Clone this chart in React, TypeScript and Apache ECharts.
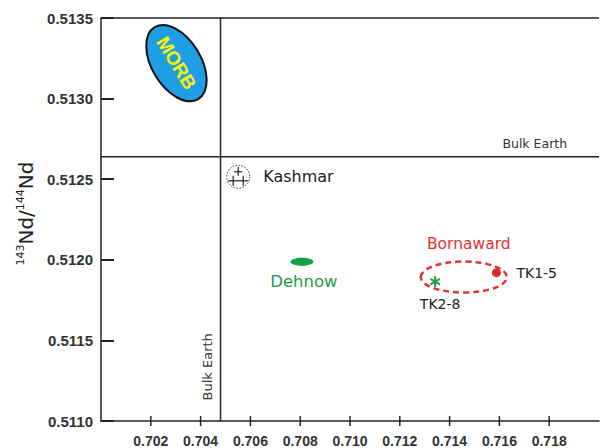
import React, { useEffect, useRef } from 'react';
import * as echarts from 'echarts';

// Axis ranges / ticks
const xRange = [0.7, 0.72];
const xInterval = 0.002;
const xTickValues = [0.702, 0.704, 0.706, 0.708, 0.71, 0.712, 0.714, 0.716, 0.718];
const yRange = [0.511, 0.5135];
const yInterval = 0.0005;

// Reference lines (Bulk Earth)
const bulkEarthSr = 0.7048;
const bulkEarthNd = 0.51264;

// Fields and samples: [87Sr/86Sr, 143Nd/144Nd]
const morbField = [0.70303, 0.51322];
const kashmar = [0.70551, 0.512515];
const dehnow = [0.70807, 0.511988];
const bornawardField = [0.71457, 0.511893];
const tk15 = [0.71588, 0.51192];
const tk28 = [0.71342, 0.511864];

// label anchors
const bulkEarthHLabel = [0.71742, bulkEarthNd];
const bulkEarthVLabel = [bulkEarthSr, 0.511336];

const SANS = '"DejaVu Sans", Verdana, sans-serif';
const ARIAL = '"Liberation Sans", Arial, sans-serif';

export default function App() {
  const ref = useRef<HTMLDivElement>(null);
  useEffect(() => {
    if (!ref.current) return;
    const chart = echarts.init(ref.current, null, { renderer: 'svg' });

    const frameLine = { stroke: '#222', lineWidth: 1.5 };

    const option: any = {
      animation: false,
      textStyle: { fontFamily: SANS },
      grid: {
        left: 101,
        top: 18,
        width: 507,
        height: 405,
      },
      xAxis: {
        type: 'value',
        min: xRange[0],
        max: xRange[1],
        interval: xInterval,
        splitLine: { show: false },
        axisLine: { show: true, lineStyle: { color: '#222', width: 1.5 } },
        axisTick: { show: false },
        axisLabel: {
          margin: 13,
          fontFamily: ARIAL,
          fontWeight: 'bold',
          fontSize: 14,
          color: '#333',
          formatter: (v: number) => (v < 0.7005 || v > 0.7195 ? '' : v.toFixed(3)),
        },
      },
      yAxis: {
        type: 'value',
        min: yRange[0],
        max: yRange[1],
        interval: yInterval,
        splitLine: { show: false },
        axisLine: { show: true, lineStyle: { color: '#222', width: 1.5 } },
        axisTick: { show: true, inside: true, length: 13, lineStyle: { color: '#222', width: 2 } },
        axisLabel: {
          margin: 8,
          fontFamily: ARIAL,
          fontWeight: 'bold',
          fontSize: 15,
          color: '#333',
          formatter: (v: number) => v.toFixed(4),
        },
        name: '{s|143}{n|Nd/}{s|144}{n|Nd}',
        nameLocation: 'middle',
        nameRotate: 90,
        nameGap: 64,
        nameTextStyle: {
          color: '#222',
          padding: [0, 0, 0, 12],
          rich: {
            s: { fontSize: 11, fontFamily: SANS, verticalAlign: 'top', lineHeight: 22, color: '#222' },
            n: { fontSize: 20, fontFamily: SANS, lineHeight: 22, color: '#222' },
          },
        },
      },
      series: [
        // Frame top border + Bulk Earth reference lines
        {
          type: 'custom',
          data: [[bulkEarthSr, bulkEarthNd]],
          silent: true,
          clip: false,
          z: 2,
          renderItem: (_p: any, api: any) => {
            const sr = api.value(0);
            const nd = api.value(1);
            const v1 = api.coord([sr, yRange[0]]);
            const v2 = api.coord([sr, yRange[1]]);
            const h1 = api.coord([xRange[0], nd]);
            const h2 = api.coord([xRange[1], nd]);
            const t1 = api.coord([xRange[0], yRange[1]]);
            const t2 = api.coord([xRange[1], yRange[1]]);
            return {
              type: 'group',
              children: [
                { type: 'line', shape: { x1: t1[0], y1: t1[1], x2: t2[0], y2: t2[1] }, style: frameLine },
                { type: 'line', shape: { x1: v1[0], y1: v1[1], x2: v2[0], y2: v2[1] }, style: frameLine },
                { type: 'line', shape: { x1: h1[0], y1: h1[1], x2: h2[0], y2: h2[1] }, style: frameLine },
              ],
            };
          },
        },
        // crossing x ticks
        {
          type: 'custom',
          data: xTickValues.map((v) => [v, yRange[0]]),
          silent: true,
          clip: false,
          z: 2,
          renderItem: (_p: any, api: any) => {
            const c = api.coord([api.value(0), api.value(1)]);
            return {
              type: 'line',
              shape: { x1: c[0], y1: c[1] - 5, x2: c[0], y2: c[1] + 5 },
              style: { stroke: '#222', lineWidth: 1.5 },
            };
          },
        },
        // MORB field
        {
          type: 'custom',
          data: [morbField],
          silent: true,
          z: 3,
          renderItem: (_p: any, api: any) => {
            const c = api.coord([api.value(0), api.value(1)]);
            return {
              type: 'group',
              x: c[0],
              y: c[1],
              rotation: -1.026,
              children: [
                {
                  type: 'ellipse',
                  shape: { cx: 0, cy: 0, rx: 42, ry: 24.5 },
                  style: { fill: '#1e9fe3', stroke: '#111', lineWidth: 2 },
                },
                {
                  type: 'text',
                  style: {
                    text: 'MORB',
                    x: 0,
                    y: 0,
                    align: 'center',
                    verticalAlign: 'middle',
                    fill: '#fff200',
                    font: 'bold 19px ' + ARIAL,
                  },
                },
              ],
            };
          },
        },
        // Kashmar
        {
          type: 'custom',
          data: [kashmar],
          silent: true,
          z: 3,
          renderItem: (_p: any, api: any) => {
            const c = api.coord([api.value(0), api.value(1)]);
            const ls = { stroke: '#222', lineWidth: 1.2 };
            return {
              type: 'group',
              x: c[0],
              y: c[1],
              children: [
                {
                  type: 'circle',
                  shape: { cx: 0, cy: 0, r: 11.5 },
                  style: { fill: 'none', stroke: '#333', lineWidth: 1, lineDash: [1.5, 1.5] },
                },
                { type: 'line', shape: { x1: 0, y1: -10, x2: 0, y2: -1 }, style: ls },
                { type: 'line', shape: { x1: -4, y1: -5, x2: 4, y2: -5 }, style: ls },
                { type: 'line', shape: { x1: -10, y1: 4, x2: 10, y2: 4 }, style: ls },
                { type: 'line', shape: { x1: -5, y1: -1, x2: -5, y2: 9 }, style: ls },
                { type: 'line', shape: { x1: 5, y1: -1, x2: 5, y2: 9 }, style: ls },
                {
                  type: 'text',
                  style: {
                    text: 'Kashmar',
                    x: 25,
                    y: 0,
                    align: 'left',
                    verticalAlign: 'middle',
                    fill: '#222',
                    font: '16px ' + SANS,
                  },
                },
              ],
            };
          },
        },
        // Dehnow
        {
          type: 'custom',
          data: [dehnow],
          silent: true,
          z: 3,
          renderItem: (_p: any, api: any) => {
            const c = api.coord([api.value(0), api.value(1)]);
            return {
              type: 'group',
              x: c[0],
              y: c[1],
              children: [
                {
                  type: 'ellipse',
                  shape: { cx: 0, cy: 0, rx: 11.5, ry: 4 },
                  style: { fill: '#15a04a' },
                },
                {
                  type: 'text',
                  style: {
                    text: 'Dehnow',
                    x: 2,
                    y: 20,
                    align: 'center',
                    verticalAlign: 'middle',
                    fill: '#1f9a48',
                    font: '16.5px ' + SANS,
                  },
                },
              ],
            };
          },
        },
        // Bornaward field
        {
          type: 'custom',
          data: [bornawardField],
          silent: true,
          z: 3,
          renderItem: (_p: any, api: any) => {
            const c = api.coord([api.value(0), api.value(1)]);
            return {
              type: 'group',
              x: c[0],
              y: c[1],
              children: [
                {
                  type: 'ellipse',
                  shape: { cx: 0, cy: 0, rx: 43, ry: 15.5 },
                  style: { fill: 'none', stroke: '#e23232', lineWidth: 2.5, lineDash: [6, 4] },
                },
                {
                  type: 'text',
                  style: {
                    text: 'Bornaward',
                    x: 5,
                    y: -33,
                    align: 'center',
                    verticalAlign: 'middle',
                    fill: '#e23232',
                    font: '15.5px ' + SANS,
                  },
                },
              ],
            };
          },
        },
        // TK2-8 asterisk
        {
          type: 'custom',
          data: [tk28],
          silent: true,
          z: 4,
          renderItem: (_p: any, api: any) => {
            const c = api.coord([api.value(0), api.value(1)]);
            const st = { stroke: '#1a9a48', lineWidth: 2 };
            const r = 5.5;
            const arms = [90, 30, -30].map((deg) => {
              const a = (deg * Math.PI) / 180;
              return {
                type: 'line',
                shape: { x1: -r * Math.cos(a), y1: -r * Math.sin(a), x2: r * Math.cos(a), y2: r * Math.sin(a) },
                style: st,
              };
            });
            return {
              type: 'group',
              x: c[0],
              y: c[1],
              children: [
                ...arms,
                {
                  type: 'text',
                  style: {
                    text: 'TK2-8',
                    x: 5,
                    y: 22,
                    align: 'center',
                    verticalAlign: 'middle',
                    fill: '#222',
                    font: '14px ' + SANS,
                  },
                },
              ],
            };
          },
        },
        // TK1-5 point
        {
          type: 'custom',
          data: [tk15],
          silent: true,
          z: 4,
          renderItem: (_p: any, api: any) => {
            const c = api.coord([api.value(0), api.value(1)]);
            return {
              type: 'group',
              x: c[0],
              y: c[1],
              children: [
                { type: 'circle', shape: { cx: 0, cy: 0, r: 4.5 }, style: { fill: '#d92a2a' } },
                {
                  type: 'text',
                  style: {
                    text: 'TK1-5',
                    x: 20,
                    y: 0,
                    align: 'left',
                    verticalAlign: 'middle',
                    fill: '#222',
                    font: '14px ' + SANS,
                  },
                },
              ],
            };
          },
        },
        // Bulk Earth labels
        {
          type: 'custom',
          data: [bulkEarthHLabel, bulkEarthVLabel],
          silent: true,
          z: 4,
          renderItem: (p: any, api: any) => {
            const c = api.coord([api.value(0), api.value(1)]);
            const vertical = p.dataIndex === 1;
            return {
              type: 'text',
              x: vertical ? c[0] - 13 : c[0],
              y: vertical ? c[1] : c[1] - 13,
              rotation: vertical ? Math.PI / 2 : 0,
              style: {
                text: 'Bulk Earth',
                x: 0,
                y: 0,
                align: 'center',
                verticalAlign: 'middle',
                fill: '#333',
                font: (vertical ? '13px ' : '12.5px ') + SANS,
              },
            };
          },
        },
      ],
    };

    chart.setOption(option);
    return () => chart.dispose();
  }, []);

  return <div ref={ref} style={{ width: 602, height: 448, position: 'absolute', left: 0, top: 0 }} />;
}
